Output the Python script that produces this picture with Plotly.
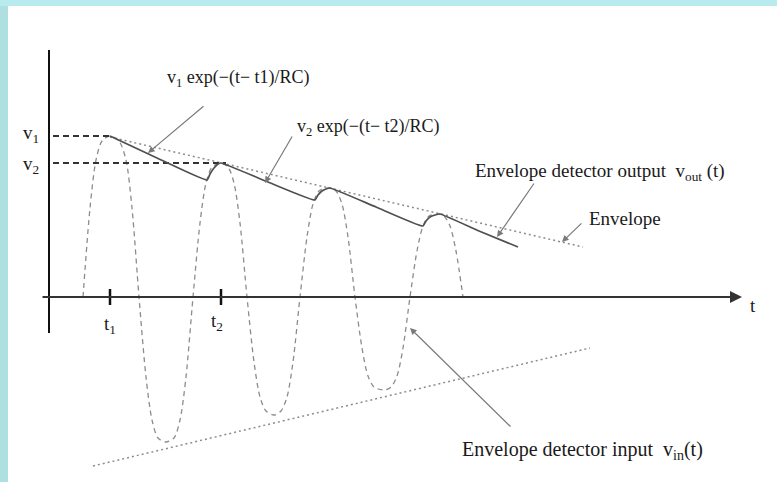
import plotly.graph_objects as go

# ---- data (t: time units, v: voltage units) ----
t1 = 61
t2 = 172
v1 = 161
v2 = 134

# input carrier v_in(t)
vin_t = [34, 41, 47, 53, 61, 70, 77, 83, 90,
         97, 103, 109, 117, 125, 131, 137, 144,
         151, 157, 163, 172, 179, 185, 191, 198,
         205, 211, 217, 225, 232, 238, 244, 251,
         258, 264, 270, 280, 287, 293, 299, 306,
         313, 319, 325, 335, 342, 348, 354, 361,
         368, 374, 380, 389, 395, 401, 407, 414]
vin_v = [0, 89, 137, 156, 161, 156, 137, 89, 0,
         -80, -123, -141, -145, -141, -123, -80, 0,
         74, 114, 130, 134, 130, 114, 74, 0,
         -65, -100, -114, -118, -114, -100, -65, 0,
         60, 93, 106, 109, 106, 93, 60, 0,
         -51, -79, -90, -93, -90, -79, -51, 0,
         46, 71, 81, 83, 81, 71, 46, 0]

# detector output v_out(t)
vout_t = [61, 108, 158, 161, 165, 169, 172, 219, 266, 269, 273, 277, 281, 327, 374, 377, 381, 386, 391, 430, 469]
vout_v = [161, 139, 117, 123, 129, 133, 134, 115, 97, 102, 106, 108, 109, 90, 71, 76, 80, 82, 83, 66, 50]

# envelopes
env_up_t = [61, 534]
env_up_v = [160, 50]
env_lo_t = [44, 541]
env_lo_v = [-169, -51]

# axes extents
taxis_t = [-8, 693]
vaxis_v = [-36, 247]

FONT = "Liberation Serif"
TXT = "#1a1a1a"

fig = go.Figure()

# input waveform (dashed)
fig.add_trace(go.Scatter(x=vin_t, y=vin_v, mode="lines",
                         line=dict(color="#8c8c8c", width=1.3, dash="5px,4px", shape="spline", smoothing=0.8),
                         hoverinfo="skip"))
# envelopes (dotted)
fig.add_trace(go.Scatter(x=env_up_t, y=env_up_v, mode="lines",
                         line=dict(color="#8c8c8c", width=1.5, dash="2px,3px"), hoverinfo="skip"))
fig.add_trace(go.Scatter(x=env_lo_t, y=env_lo_v, mode="lines",
                         line=dict(color="#8c8c8c", width=1.5, dash="2px,3px"), hoverinfo="skip"))
# level lines v1, v2
fig.add_trace(go.Scatter(x=[4, t1], y=[v1, v1], mode="lines",
                         line=dict(color="#333333", width=2, dash="6px,4px"), hoverinfo="skip"))
fig.add_trace(go.Scatter(x=[4, t2 + 5], y=[v2, v2], mode="lines",
                         line=dict(color="#333333", width=2, dash="6px,4px"), hoverinfo="skip"))
# output (solid)
fig.add_trace(go.Scatter(x=vout_t, y=vout_v, mode="lines",
                         line=dict(color="#505050", width=1.7, shape="spline", smoothing=0.4),
                         hoverinfo="skip"))
# vertical axis
fig.add_trace(go.Scatter(x=[0, 0], y=vaxis_v, mode="lines",
                         line=dict(color="#111111", width=2), hoverinfo="skip"))
# ticks at t1, t2
for tt in (t1, t2):
    fig.add_trace(go.Scatter(x=[tt, tt], y=[-8, 8], mode="lines",
                             line=dict(color="#111111", width=2.5), hoverinfo="skip"))

# horizontal axis with arrow
fig.add_annotation(x=taxis_t[1], y=0, ax=taxis_t[0], ay=0, xref="x", yref="y",
                   axref="x", ayref="y", text="", showarrow=True,
                   arrowhead=2, arrowsize=1.2, arrowwidth=2, arrowcolor="#333333")

# pointer arrows (tail -> head)
arrows = [
    ((156, 192), (99, 144)),
    ((244, 162), (216, 114)),
    ((486, 115), (448, 60)),
    ((534, 75), (513, 55)),
    ((463, -131), (361, -31)),
]
for (tx, ty), (hx, hy) in arrows:
    fig.add_annotation(x=hx, y=hy, ax=tx, ay=ty, xref="x", yref="y", axref="x", ayref="y",
                       text="", showarrow=True, arrowhead=2, arrowsize=1.1,
                       arrowwidth=1.2, arrowcolor="#7a7a7a", standoff=0)

def label(x, y, text, xanchor="left", size=18):
    fig.add_annotation(x=x, y=y, xref="x", yref="y", text=text, showarrow=False,
                       xanchor=xanchor, yanchor="middle",
                       font=dict(family=FONT, size=size, color=TXT))

label(116, 219, "v<sub>1</sub> exp(\u2212(t\u2212 t1)/RC)", size=18)
label(246, 170, "v<sub>2</sub> exp(\u2212(t\u2212 t2)/RC)", size=18)
label(424, 125, "Envelope detector output  v<sub>out</sub> (t)", size=19)
label(538, 79, "Envelope", size=19)
label(411, -153, "Envelope detector input  v<sub>in</sub>(t)", size=20)
label(704, -8, "t", xanchor="center", size=19)
label(t1, -28, "t<sub>1</sub>", xanchor="center", size=19)
label(t2 - 4, -25, "t<sub>2</sub>", xanchor="center", size=19)
label(-18, v1 + 2, "v<sub>1</sub>", xanchor="center", size=19)
label(-18, v2 - 2, "v<sub>2</sub>", xanchor="center", size=19)

# teal frame strips
fig.add_shape(type="rect", xref="paper", yref="paper", x0=0, x1=8 / 777, y0=0, y1=1,
              fillcolor="#aedfe1", line_width=0, layer="below")
fig.add_shape(type="rect", xref="paper", yref="paper", x0=0, x1=1, y0=1 - 6 / 482, y1=1,
              fillcolor="#b8ebed", line_width=0, layer="below")

fig.update_layout(
    width=777, height=482, margin=dict(l=0, r=0, t=0, b=0),
    paper_bgcolor="white", plot_bgcolor="white", showlegend=False,
    xaxis=dict(visible=False, range=[-49, 728], fixedrange=True),
    yaxis=dict(visible=False, range=[-185, 297], fixedrange=True),
)

fig.write_html("out.html", config={"displayModeBar": False},
               post_script="document.body.style.margin='0';document.body.style.overflow='hidden';")
